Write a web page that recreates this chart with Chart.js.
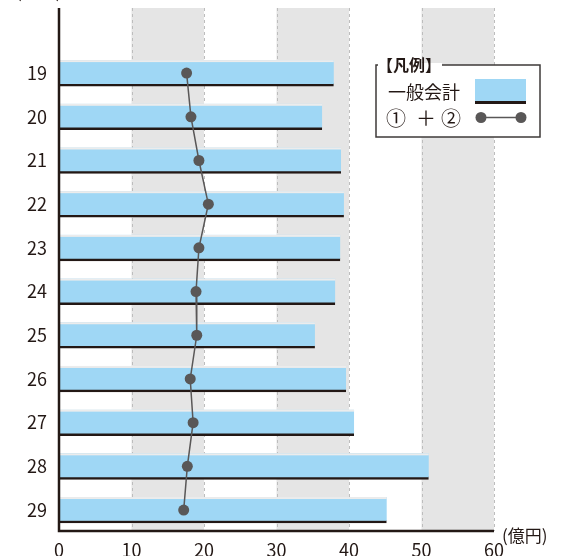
<!DOCTYPE html>
<html lang="ja">
<head>
<meta charset="utf-8">
<script src="https://cdn.jsdelivr.net/npm/chart.js@4"></script>
<style>
  html, body { margin: 0; padding: 0; background: #fff; }
  #wrap { width: 562px; height: 556px; }
</style>
</head>
<body>
<div id="wrap"><canvas id="chart"></canvas></div>
<script>
// 年度（平成）
const years = [19, 20, 21, 22, 23, 24, 25, 26, 27, 28, 29];
// 一般会計（億円）
const ippanKaikei = [37.9, 36.3, 38.9, 39.3, 38.8, 38.1, 35.3, 39.6, 40.7, 51.0, 45.2];
// ① + ②（億円）
const sum12 = [17.6, 18.2, 19.3, 20.6, 19.3, 18.9, 19.0, 18.1, 18.5, 17.7, 17.2];
// x軸の目盛
const xTicks = [0, 10, 20, 30, 40, 50, 60];

const FONT = '"Noto Sans CJK JP", "Noto Sans", sans-serif';
const BLUE = '#9fd7f5';
const DARK = '#595757';

// 背景の帯・点線・軸線・凡例を描くプラグイン
const decor = {
  id: 'decor',
  beforeDatasetsDraw(chart) {
    const { ctx, chartArea: a, scales: { x } } = chart;
    ctx.save();
    // 灰色の帯 (10-20, 30-40, 50-60)
    ctx.fillStyle = '#e5e5e5';
    for (let i = 1; i < xTicks.length; i += 2) {
      const x0 = x.getPixelForValue(xTicks[i]);
      const x1 = x.getPixelForValue(xTicks[i + 1]);
      ctx.fillRect(x0, a.top, x1 - x0, a.bottom - a.top);
    }
    // 点線のグリッド
    ctx.strokeStyle = '#bdbdbd';
    ctx.lineWidth = 1;
    ctx.setLineDash([3, 3]);
    xTicks.slice(1).forEach(v => {
      const px = Math.round(x.getPixelForValue(v)) + 0.5;
      ctx.beginPath();
      ctx.moveTo(px, a.top);
      ctx.lineTo(px, a.bottom);
      ctx.stroke();
    });
    ctx.restore();
  },
  afterDatasetDraw(chart, args) {
    if (args.index !== 0) return;
    // 棒の上端の薄い線
    const { ctx } = chart;
    ctx.save();
    ctx.fillStyle = '#ececec';
    args.meta.data.forEach(bar => {
      const top = bar.y - bar.height / 2;
      ctx.fillRect(bar.base, top, bar.x - bar.base, 2);
    });
    ctx.restore();
  },
  afterDraw(chart) {
    const { ctx, chartArea: a } = chart;
    ctx.save();
    // 軸線
    ctx.strokeStyle = '#231815';
    ctx.lineWidth = 2.5;
    ctx.beginPath();
    ctx.moveTo(a.left, a.top);
    ctx.lineTo(a.left, a.bottom);
    ctx.lineTo(a.right, a.bottom);
    ctx.stroke();

    // 単位
    ctx.fillStyle = '#231815';
    ctx.font = '17px ' + FONT;
    ctx.textBaseline = 'middle';
    ctx.textAlign = 'left';
    ctx.fillText('(億円)', a.right + 8, 536);
    ctx.textBaseline = 'bottom';
    ctx.fillText('(年度)', 16, 0);

    // 凡例
    const bx = 376, by = 65, bw = 164, bh = 72;
    ctx.fillStyle = '#fff';
    ctx.fillRect(bx, by, bw, bh);
    ctx.strokeStyle = '#3e3a39';
    ctx.lineWidth = 1.5;
    ctx.strokeRect(bx, by, bw, bh);
    ctx.fillStyle = '#fff';
    ctx.fillRect(bx + 2, by - 2, 64, 5);
    ctx.fillStyle = '#231815';
    ctx.font = 'bold 16px ' + FONT;
    ctx.textBaseline = 'middle';
    ctx.fillText('【凡例】', bx + 1, by);
    ctx.font = '18px ' + FONT;
    ctx.fillText('一般会計', 388, 92);
    ctx.font = '20px ' + FONT;
    ctx.fillText('①', 386, 118);
    ctx.fillText('＋', 416, 118);
    ctx.fillText('②', 441, 118);
    // 一般会計の見本
    ctx.fillStyle = BLUE;
    ctx.fillRect(475, 79, 51, 22);
    ctx.fillStyle = '#231815';
    ctx.fillRect(475, 101, 51, 3);
    // ①+②の見本
    ctx.strokeStyle = DARK;
    ctx.lineWidth = 1.5;
    ctx.beginPath();
    ctx.moveTo(481, 117.5);
    ctx.lineTo(521, 117.5);
    ctx.stroke();
    ctx.fillStyle = DARK;
    [481, 521].forEach(cx => {
      ctx.beginPath();
      ctx.arc(cx, 117.5, 5.5, 0, Math.PI * 2);
      ctx.fill();
    });
    ctx.restore();
  }
};

const ctx = document.getElementById('chart').getContext('2d');
new Chart(ctx, {
  data: {
    datasets: [
      {
        type: 'bar',
        label: '一般会計',
        data: years.map((y, i) => ({ x: ippanKaikei[i], y: y })),
        backgroundColor: BLUE,
        borderColor: '#231815',
        borderWidth: { top: 0, right: 0, bottom: 2.5, left: 0 },
        borderSkipped: false,
        barThickness: 26,
        order: 2
      },
      {
        type: 'line',
        label: '① + ②',
        data: years.map((y, i) => ({ x: sum12[i], y: y })),
        borderColor: DARK,
        borderWidth: 1.5,
        pointBackgroundColor: DARK,
        pointBorderWidth: 0,
        pointRadius: 5.5,
        tension: 0,
        order: 1
      }
    ]
  },
  options: {
    indexAxis: 'y',
    responsive: true,
    maintainAspectRatio: false,
    animation: false,
    layout: { padding: { top: 8, right: 68, left: 0, bottom: 0 } },
    plugins: {
      legend: { display: false },
      tooltip: { enabled: false }
    },
    scales: {
      x: {
        type: 'linear',
        min: 0,
        max: 60,
        grid: { display: false, drawTicks: false },
        border: { display: false },
        afterFit: s => { s.height = 25; s.paddingLeft = 0; s.paddingRight = 0; },
        afterBuildTicks: s => { s.ticks = xTicks.map(v => ({ value: v })); },
        ticks: {
          color: '#231815',
          padding: 8,
          font: { family: FONT, size: 18 }
        }
      },
      y: {
        type: 'linear',
        reverse: true,
        offset: false,
        min: 17.51,
        max: 29.48,
        grid: { display: false, drawTicks: false },
        border: { display: false },
        afterFit: s => { s.width = 59; s.paddingTop = 0; s.paddingBottom = 0; },
        afterBuildTicks: s => { s.ticks = years.map(v => ({ value: v })); },
        ticks: {
          color: '#231815',
          padding: 12,
          font: { family: FONT, size: 18 }
        }
      }
    }
  },
  plugins: [decor]
});
</script>
</body>
</html>
